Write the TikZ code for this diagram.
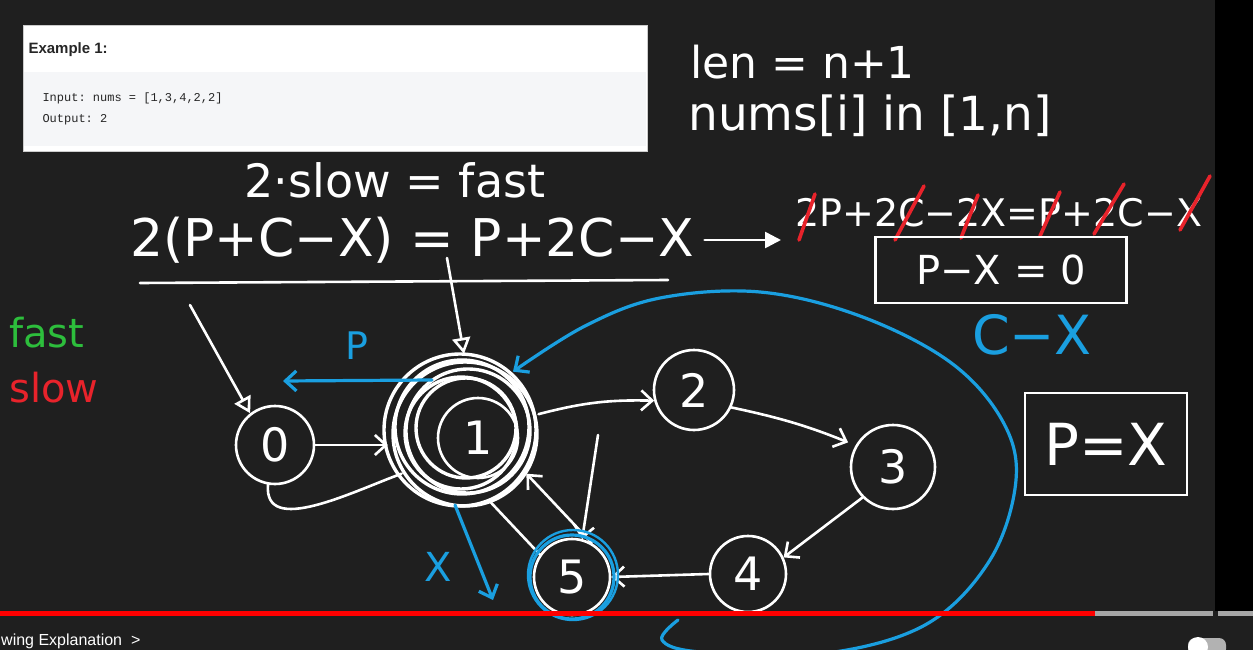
\documentclass[tikz,border=0pt]{standalone}
\usepackage{fontspec}
\setmainfont{DejaVu Sans}
\setmonofont{Liberation Mono}
\newfontfamily\uifont{Liberation Sans}
\usepackage{xcolor}
\usetikzlibrary{arrows.meta,positioning,calc}
\definecolor{board}{HTML}{1F1F1F}
\definecolor{penblue}{HTML}{1A9FE0}
\definecolor{pengreen}{HTML}{2DBE3C}
\definecolor{penred}{HTML}{E8232B}
\definecolor{codegray}{HTML}{F5F6F8}
\definecolor{ytred}{HTML}{FF0000}

\begin{document}
\begin{tikzpicture}[x=1pt,y=-1pt,
  ink/.style={white,line width=2.6pt,line cap=round,line join=round},
  blueink/.style={penblue,line width=3.2pt,line cap=round,line join=round},
  redink/.style={penred,line width=3.6pt,line cap=round},
  hand/.style={text=white,inner sep=0pt,font=\fontsize{#1}{#1}\selectfont},
  hand/.default=46,
  vtx/.style={circle,draw=white,line width=2.6pt,minimum size=78pt,inner sep=0pt,
    text=white,font=\fontsize{46}{46}\selectfont},
  barb/.style={-{Straight Barb[length=11pt,width=20pt]}},
  tri/.style={-{Triangle[open,length=16pt,width=18pt]}},
  box/.style={draw=white,line width=2.6pt,inner sep=0pt},
]
  \useasboundingbox (0,0) rectangle (1253,650);
  \clip (0,0) rectangle (1253,650);
  \fill[board] (0,0) rectangle (1253,650);
  \fill[black] (1215,0) rectangle (1253,611);

  \node[draw=gray!40,fill=white,minimum width=624pt,minimum height=126pt,
    anchor=north west,inner sep=0pt] (card) at (23,25) {};
  \fill[codegray] (24,72) rectangle (646,146);
  \node[anchor=west,text=black!85,font=\uifont\bfseries\fontsize{15}{15}\selectfont]
    (exlabel) at (25,50) {Example 1:};
  \node[anchor=west,text=black!85,font=\ttfamily\fontsize{12}{12}\selectfont]
    (exin) at (39,98) {Input: nums = [1,3,4,2,2]};
  \node[anchor=west,text=black!85,font=\ttfamily\fontsize{12}{12}\selectfont]
    (exout) at (39,120) {Output: 2};

  \node[hand=44,anchor=west] (lenrule) at (690,62) {len = n+1};
  \node[hand=47,anchor=west] (rangerule) at (688,116) {nums[i] in [1,n]};

  \node[hand=46] (eqslow) at (395,180) {2·slow = fast};
  \node[hand=52,anchor=west] (eqmain) at (130,240) {2(P+C−X) = P+2C−X};
  \draw[ink] (140,283) -- (668,280);
  \node[hand=38,anchor=west] (eqcross) at (795,213) {2P+2C−2X=P+2C−X};
  \draw[ink,-{Triangle[length=16pt,width=16pt]},shorten <=10pt,shorten >=14pt]
    (eqmain.east) -- (eqmain.east -| eqcross.west);
  \draw[redink] (799,240) -- (815,194);
  \draw[redink] (895,240) -- (924,186);
  \draw[redink] (961,238) -- (978,195);
  \draw[redink] (1040,236) -- (1060,192);
  \draw[redink] (1094,234) -- (1124,184);
  \draw[redink] (1180,230) -- (1210,176);

  \node[box,minimum width=251pt,minimum height=66pt,hand=40] (pxzero) at (1001,270) {P−X = 0};
  \node[hand=54,text=penblue] (cxlabel) at (1032,335) {C−X};
  \node[box,minimum width=162pt,minimum height=102pt,hand=58] (pxbox) at (1106,444) {P=X};

  \node[hand=40,anchor=west,text=pengreen] (fastkey) at (9,333) {fast};
  \node[hand=40,anchor=west,text=penred] (slowkey) at (9,388) {slow};

  \node[vtx] (n0) at (275,445) {0};
  \node[vtx,minimum size=80pt] (n1) at (478,438) {1};
  \node[circle,minimum size=152pt] (n1ring) at ($(n1)+(-14,-8)$) {};
  \foreach \r/\dx/\dy in {50/2/-2,56/-3/3,62/4/1,67/-2/-3,72/1/4,76/-4/0}
    \draw[ink,line width=3.4pt] ($(n1ring)+(\dx,\dy)$) circle[radius=\r pt];
  \node[vtx,minimum size=80pt] (n2) at (694,390) {2};
  \node[vtx,minimum size=84pt] (n3) at (893,467) {3};
  \node[vtx,minimum size=76pt] (n4) at (748,574) {4};
  \node[vtx,minimum size=76pt] (n5) at (572,577) {5};

  \coordinate (ptr0) at (190,305);
  \coordinate (ptr1) at (447,258);
  \coordinate (drop5) at (598,435);
  \draw[ink,tri] (ptr0) -- (n0.128);
  \draw[ink,tri] (ptr1) -- (n1ring.north);
  \draw[ink,barb] (n0.east) -- (n0.east -| n1ring.west);
  \draw[ink] (n0.-100) to[out=-95,in=200] (n1ring.215);
  \draw[ink,barb] (n1ring.12) to[bend left=8] (n2.195);
  \draw[ink,barb,shorten >=8pt] (n2.-25) to[bend left=5] (n3.150);
  \draw[ink,barb] (n3.225) -- (n4.25);
  \draw[ink,barb] (n4.west) -- (n5.east);
  \draw[ink,barb] (n5.60) -- (n1ring.-35);
  \draw[ink] (n1ring.-70) -- (n5.145);
  \draw[ink,barb] (drop5) -- (n5.75);

  \coordinate (pstart) at (432,380);
  \coordinate (pend) at (283,381);
  \coordinate (xstart) at (455,505);
  \coordinate (xend) at (493,600);
  \coordinate (loopstart) at (678,620);
  \draw[blueink,barb] (pstart) -- (pend);
  \node[hand=38,text=penblue] (plabel) at (357,346) {P};
  \draw[blueink,barb] (xstart) -- (xend);
  \node[hand=40,text=penblue] (xlabel) at (438,567) {X};
  \draw[blueink] (n5) circle[radius=42pt];
  \draw[blueink,line width=2.4pt] ($(n5)+(1,-2)$) circle[radius=45pt];
  \draw[blueink,barb] plot[smooth,tension=0.6] coordinates {(loopstart) (662,640)
    (700,652) (820,654) (925,625) (990,560) (1016,480) (1002,420) (950,362)
    (860,316) (760,292) (660,298) (585,326) (n1ring.50)};

  \fill[ytred] (0,611) rectangle (1095,616);
  \fill[gray!70] (1095,611) rectangle (1213,616);
  \fill[gray!70] (1218,611) rectangle (1253,616);
  \node[anchor=base west,text=white,inner sep=0pt,font=\uifont\fontsize{16}{16}\selectfont]
    (chapter) at (1,645) {wing Explanation \ >};
  \fill[gray!60,rounded corners=7pt] (1188,638) rectangle (1226,656);
  \node[circle,fill=white,minimum size=20pt,inner sep=0pt] (toggle) at (1198,647) {};
\end{tikzpicture}
\end{document}
